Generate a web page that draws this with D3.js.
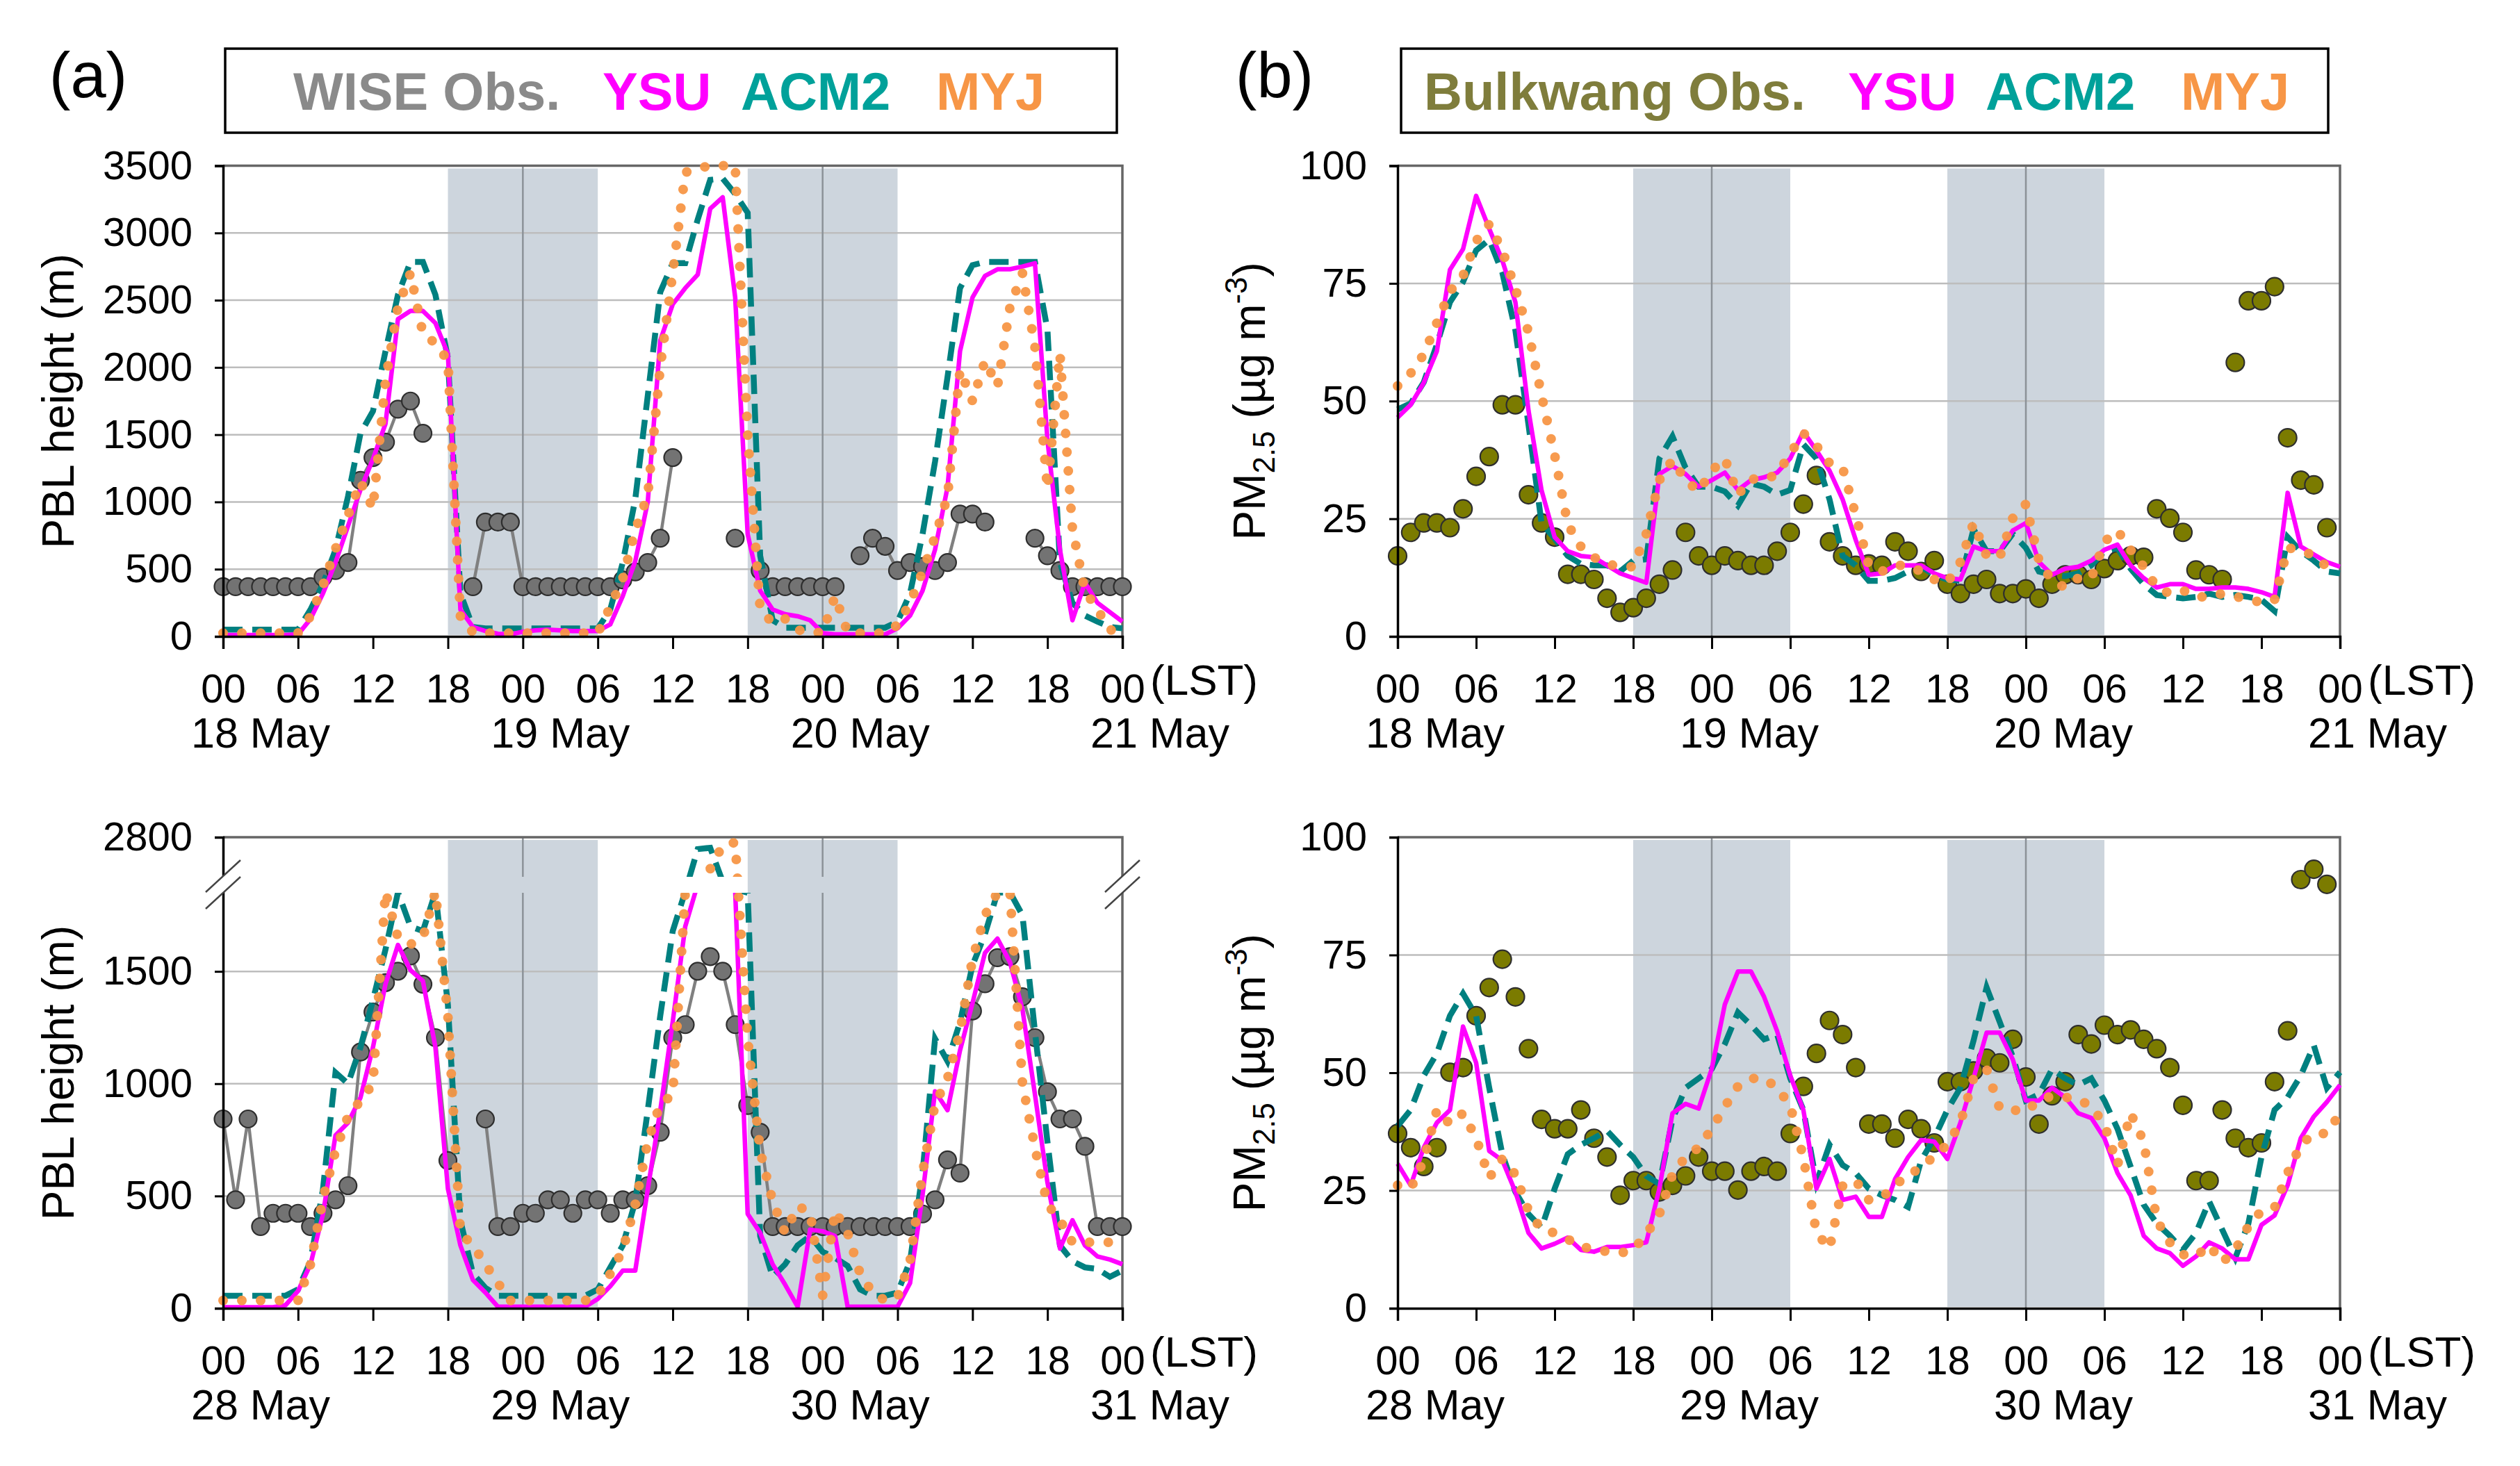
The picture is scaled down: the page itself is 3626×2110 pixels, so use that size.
<!DOCTYPE html>
<html>
<head>
<meta charset="utf-8">
<script src="https://cdn.jsdelivr.net/npm/d3@7"></script>
<style>
  body { margin: 0; background: #fff; }
  text { font-family: "Liberation Sans", Arial, sans-serif; }
</style>
</head>
<body>
<svg id="fig" width="3626" height="2110"></svg>
<script>
// hour index 0..72 (00 LST of first day .. 00 LST three days later)
const tickHours = d3.range(0, 73, 6);
const nightStarts = [18, 42];           // shaded 18-06 LST
const dayLinesAt = [24, 48];

const daysTop = ["18 May", "19 May", "20 May", "21 May"];
const daysBottom = ["28 May", "29 May", "30 May", "31 May"];

const pblTicksTop = [0, 500, 1000, 1500, 2000, 2500, 3000, 3500];
const pblTicksBottom = [0, 500, 1000, 1500, 2800];
const pmTicks = [0, 25, 50, 75, 100];

// ---- (a) PBL height, 18-21 May
const pblObs1 = [370,370,370,370,370,370,370,370,440,490,550,1160,1330,1445,1690,1750,1510,null,null,null,
  370,850,850,850,370,370,370,370,370,370,370,370,420,480,550,730,1330,null,null,null,
  null,730,null,490,370,370,370,370,370,370,null,600,730,670,490,550,520,490,550,910,
  910,850,null,null,null,730,600,490,370,370,370,370,370];
const pblYsu1 = [10,10,10,10,10,10,15,130,320,550,820,1090,1320,1580,2360,2420,2420,2330,2100,200,
  70,40,20,15,35,45,50,45,40,40,40,90,300,560,1000,2200,2470,2590,2690,3180,
  3265,2520,760,340,200,165,150,120,25,15,15,15,15,15,60,155,340,645,1110,2120,
  2520,2680,2730,2730,2750,2775,1460,645,120,400,250,180,110];
const pblAcm1 = [50,50,50,50,50,50,50,200,390,645,1040,1510,1675,2120,2540,2785,2785,2540,2070,320,
  70,60,60,60,60,60,60,60,60,60,60,200,550,1020,1790,2560,2775,2775,3100,3395,
  3405,3290,3150,600,120,65,65,65,65,65,65,65,65,65,110,320,760,1300,1930,2590,
  2760,2785,2785,2785,2785,2785,2280,550,250,155,110,70,60];
const pblMyj1 = [25,25,25,25,25,25,25,150,380,650,900,1150,950,1900,2450,2700,2250,2180,2050,150,
  30,25,25,25,25,25,25,25,25,25,25,220,430,790,1050,2000,2700,3450,3480,3500,
  3500,3500,1500,200,100,130,50,25,30,300,30,25,25,25,85,250,480,740,1040,1980,
  1750,2050,1860,2450,2700,2150,1100,2100,800,340,200,50,30];

// ---- (b) PM2.5, 18-21 May
const pmObs1 = [17.1,22.1,24.1,24.1,23.1,27.1,34.0,38.2,49.2,49.2,30.1,24.1,21.1,13.2,13.2,12.1,8.1,5.1,6.1,8.1,
  11.1,14.1,22.1,17.1,15.1,17.1,16.1,15.1,15.1,18.1,22.1,28.1,34.2,20.1,17.1,15.1,15.4,15.1,20.1,18.1,
  13.8,16.1,11.1,9.1,11.1,12.1,9.1,9.1,10.1,8.1,11.1,13.1,13.1,12.1,14.4,16.1,17.1,16.8,27.1,25.1,
  22.1,14.1,13.1,12.1,58.2,71.3,71.3,74.3,42.2,33.2,32.2,23.1,null];
const pmYsu1 = [46.5,49.2,53.9,60.6,77.9,82.3,93.6,86.6,79.9,71.0,48.0,31.0,21.1,18.1,17.1,16.8,15.1,13.4,12.4,11.4,
  34.5,36.2,34.5,31.8,33.2,34.8,31.1,33.2,33.8,34.8,37.8,43.5,39.5,35.2,29.1,20.5,13.1,13.4,15.1,15.1,
  15.1,13.4,12.4,12.1,19.1,18.1,18.1,22.5,24.1,15.8,13.1,14.4,14.8,16.1,18.4,19.5,15.1,12.4,10.4,11.1,
  11.1,10.1,10.1,10.4,10.4,10.1,9.4,8.4,30.5,19.1,17.4,15.8,14.8];
const pmAcm1 = [48.2,49.5,54.0,62.0,71.0,75.3,82.0,84.3,77.3,65.0,45.0,24.0,20.8,17.1,15.4,15.1,15.1,13.8,16.1,16.4,
  37.8,42.5,35.8,31.8,31.8,30.8,27.8,32.5,31.8,30.1,31.1,40.8,37.8,29.1,17.1,15.1,11.8,11.8,12.4,13.8,
  14.8,13.1,12.1,11.8,22.8,18.1,18.1,21.8,18.8,13.8,13.1,12.8,13.4,15.1,18.1,18.8,14.4,11.1,8.8,8.4,
  8.1,8.4,9.1,8.4,8.8,8.4,7.8,5.4,21.1,18.1,16.1,13.8,13.4];
const pmMyj1 = [53.2,55.9,59.9,66.6,73.3,76.6,84.0,87.6,82.0,73.9,64.6,51.2,38.5,23.8,19.1,16.8,15.4,14.8,14.8,21.8,
  33.2,37.5,33.2,30.8,35.2,37.8,30.1,33.5,33.2,34.5,38.8,43.2,40.5,36.8,35.8,25.8,15.1,13.8,15.1,15.1,
  13.8,12.1,11.4,15.8,24.1,17.1,16.8,25.1,28.1,16.1,11.8,10.4,12.4,12.4,20.1,22.5,18.4,14.8,10.4,9.1,
  9.8,8.4,8.4,9.1,8.4,8.1,7.1,7.8,18.8,18.4,17.1,14.8,14.4];

// ---- (a) PBL height, 28-31 May (broken axis above ~1850 m)
const pblObs2 = [843,483,843,364,423,423,423,364,423,483,546,1141,1319,1450,1501,1569,1443,1205,658,null,
  null,843,364,364,423,423,483,483,423,483,483,423,483,483,546,784,1205,1263,1501,1566,
  1501,1263,903,784,364,364,364,364,364,364,364,364,364,364,364,364,420,483,661,602,
  1324,1445,1561,1566,1387,1205,964,843,843,721,364,364,364];
const pblYsu2 = [5,5,5,5,5,14,77,196,420,770,826,938,1162,1443,1618,1506,1457,1162,532,280,
  126,70,7,7,7,7,7,7,7,7,42,98,168,168,530,880,1276,1700,2200,2300,
  2250,1900,420,336,196,105,7,350,343,322,7,7,7,7,7,112,504,966,882,1148,
  1359,1583,1646,1541,1331,952,560,266,392,280,231,217,196];
const pblAcm2 = [56,56,56,56,56,56,84,210,532,1050,1000,1162,1373,1597,1870,1700,1680,1870,1350,392,
  154,91,56,56,56,56,56,56,56,56,84,182,280,476,882,1302,1680,1900,2710,2720,
  2300,2000,1850,322,140,196,280,322,252,224,189,84,56,56,70,210,602,1200,1100,1274,
  1527,1667,1860,1870,1750,1232,742,280,210,182,175,140,168];
const pblMyj2 = [35,35,35,35,35,35,35,196,490,700,854,924,1000,1900,1650,1620,1650,1900,1300,336,
  280,196,112,35,35,35,35,35,35,35,56,154,259,462,742,910,950,1870,2300,2560,
  2740,2760,1200,700,476,336,455,427,56,434,336,154,70,35,49,210,602,910,1022,1232,
  1555,1751,1860,1860,1000,714,462,392,294,294,294,294,294];

// ---- (b) PM2.5, 28-31 May
const pmObs2 = [37.1,34.1,30.1,34.1,50.1,51.1,62.1,68.1,74.1,66.1,55.1,40.1,38.1,38.1,42.1,36.1,32.1,24.0,27.1,27.1,
  24.7,26.1,28.1,32.1,29.1,29.1,25.1,29.1,30.1,29.1,37.1,47.1,54.1,61.1,58.1,51.1,39.1,39.1,36.1,40.1,
  38.1,35.1,48.1,48.1,50.4,53.1,52.1,57.1,49.1,39.1,45.1,48.1,58.1,56.1,60.1,58.1,59.1,57.1,55.1,51.1,
  43.1,27.1,27.1,42.1,36.1,34.1,35.1,48.1,58.9,91.0,93.2,90.0,null];
const pmYsu2 = [30.7,26.1,34.1,39.4,42.1,59.8,52.1,33.4,31.4,24.7,16.0,12.7,13.7,15.0,12.4,12.0,13.0,13.0,13.4,14.0,
  25.4,41.4,43.4,42.4,50.8,64.5,71.5,71.5,66.1,58.8,49.4,42.1,25.4,31.7,23.0,23.7,19.4,19.4,27.4,32.1,
  35.7,35.4,31.7,39.4,48.8,58.5,58.5,52.8,44.1,44.1,46.8,44.8,41.4,40.4,36.1,28.7,24.0,15.4,12.7,11.7,
  9.0,11.0,14.0,12.7,10.4,10.4,17.7,19.7,26.1,36.1,40.7,43.8,47.4];
const pmAcm2 = [38.7,42.1,49.4,54.1,62.1,66.8,62.1,46.8,32.7,24.7,20.0,17.1,25.4,32.7,34.7,36.1,37.7,34.7,32.1,28.1,
  26.4,40.1,46.8,48.8,50.8,56.1,62.8,60.1,57.1,58.1,48.8,42.1,26.7,34.7,30.4,28.7,25.4,24.0,23.0,21.5,
  31.4,36.1,42.1,46.8,56.8,68.1,60.8,53.4,44.1,45.4,50.8,48.8,47.4,48.8,44.1,38.1,30.1,22.0,18.0,15.4,
  12.4,16.0,22.7,16.7,10.7,18.0,32.1,42.1,44.8,49.4,55.8,46.8,50.1];
const pmMyj2 = [26.1,25.4,31.4,42.1,39.1,41.4,36.1,27.7,31.7,28.4,20.7,16.7,16.0,14.7,13.0,12.7,12.0,11.7,12.4,15.7,
  20.0,28.4,32.1,34.1,38.1,42.8,47.1,48.8,48.8,46.8,43.0,32.0,16.0,12.7,26.0,27.1,23.0,23.5,26.0,28.5,
  29.7,32.4,34.7,39.4,48.8,50.8,42.4,42.1,41.8,44.1,45.1,44.8,44.4,42.8,39.1,30.4,41.4,35.4,18.7,14.0,
  11.4,11.0,13.4,9.7,12.4,17.4,20.7,21.4,28.7,34.7,37.1,37.1,41.4];

const legendA = [
  {label: "WISE Obs.", color: "#8a8a8a"},
  {label: "YSU", color: "#ff00ff"},
  {label: "ACM2", color: "#00a19a"},
  {label: "MYJ", color: "#f79646"}
];
const legendB = [
  {label: "Bulkwang Obs.", color: "#7f7d3c"},
  {label: "YSU", color: "#ff00ff"},
  {label: "ACM2", color: "#00a19a"},
  {label: "MYJ", color: "#f79646"}
];

const svg = d3.select("#fig");
const FONT = '"Liberation Sans", Arial, sans-serif';

function drawPanel(p) {
  const x = d3.scaleLinear().domain([0, 72]).range([p.x0, p.x1]);
  const y = p.y;
  const [yb, yt] = [y.range()[0], y.range()[y.range().length - 1]];
  const g = svg.append("g");

  // night shading
  g.selectAll("rect.night").data(nightStarts).join("rect")
    .attr("x", d => x(d)).attr("width", d => x(d + 12) - x(d))
    .attr("y", yt + 4).attr("height", yb - yt - 6)
    .attr("fill", "#cdd5dd");

  // horizontal grid
  g.selectAll("line.grid").data(p.grid).join("line")
    .attr("x1", p.x0).attr("x2", p.x1)
    .attr("y1", d => y(d)).attr("y2", d => y(d))
    .attr("stroke", "#bdbdbd").attr("stroke-width", 2.5);

  // day separators
  p.daySegs.forEach(([a, b]) => {
    g.selectAll(null).data(dayLinesAt).join("line")
      .attr("x1", d => x(d)).attr("x2", d => x(d))
      .attr("y1", a).attr("y2", b)
      .attr("stroke", "#8c9298").attr("stroke-width", 2.5);
  });

  // frame (top, right)
  g.append("path")
    .attr("d", `M${p.x0},${yt}H${p.x1}V${yb}`)
    .attr("fill", "none").attr("stroke", "#666").attr("stroke-width", 3.5);

  // series
  const sg = g.append("g");
  if (p.clip) sg.attr("clip-path", `url(#${p.clip})`);
  const line = d3.line().defined(d => d != null).x((d, i) => x(i)).y(d => y(d));

  sg.append("path").datum(p.obs).attr("d", line)
    .attr("fill", "none").attr("stroke", p.obsLine).attr("stroke-width", 4.5);
  sg.selectAll("circle").data(p.obs.map((v, i) => [i, v]).filter(d => d[1] != null)).join("circle")
    .attr("cx", d => x(d[0])).attr("cy", d => y(d[1])).attr("r", p.obsR)
    .attr("fill", p.obsFill).attr("stroke", "#2e2e2e").attr("stroke-width", 2.2);

  sg.append("path").datum(p.acm).attr("d", line)
    .attr("fill", "none").attr("stroke", "#008080").attr("stroke-width", 8.5)
    .attr("stroke-dasharray", "28 14");
  sg.append("path").datum(p.ysu).attr("d", line)
    .attr("fill", "none").attr("stroke", "#ff00ff").attr("stroke-width", 6.5)
    .attr("stroke-linejoin", "round");
  sg.append("path").datum(p.myj).attr("d", line)
    .attr("fill", "none").attr("stroke", "#f79646").attr("stroke-width", 14)
    .attr("stroke-linecap", "round").attr("stroke-dasharray", "0 27")
    .attr("opacity", 0.95);

  // axes
  const ay = g.append("g").attr("transform", `translate(${p.x0},0)`)
    .call(d3.axisLeft(y).tickValues(p.ticks).tickSize(12).tickPadding(32)
      .tickFormat(d3.format("d")));
  const ax = g.append("g").attr("transform", `translate(0,${yb})`)
    .call(d3.axisBottom(x).tickValues(tickHours).tickSize(18).tickPadding(36)
      .tickFormat(h => d3.format("02")(h % 24)));
  [ay, ax].forEach(a => {
    a.attr("font-size", 58).attr("font-family", FONT);
    a.select(".domain").attr("stroke", "#000").attr("stroke-width", 3.5);
    a.selectAll(".tick line").attr("stroke", "#000").attr("stroke-width", 3);
    a.selectAll(".tick text").attr("fill", "#000");
  });

  g.append("text").attr("x", p.x1 + 40).attr("y", yb + 84)
    .attr("font-size", 62).text("(LST)");

  g.selectAll("text.day").data(p.days).join("text")
    .attr("x", (d, i) => x(i * 24) - 46).attr("y", yb + 160)
    .attr("font-size", 61).text(d => d);

  // y title
  const yc = (yb + yt) / 2;
  const tt = g.append("text")
    .attr("transform", `translate(${p.titleX},${yc}) rotate(-90)`)
    .attr("text-anchor", "middle").attr("font-size", 64);
  if (p.pm) {
    tt.append("tspan").text("PM");
    tt.append("tspan").attr("font-size", 44).attr("dy", 14).text("2.5");
    tt.append("tspan").attr("dy", -14).text(" (\u00b5g m");
    tt.append("tspan").attr("font-size", 44).attr("dy", -26).text("-3");
    tt.append("tspan").attr("dy", 26).text(")");
  } else {
    tt.text("PBL height (m)");
  }
  return {x, y, g};
}

function drawLegend(items, box, starts, tag, tagX) {
  svg.append("rect").attr("x", box[0]).attr("y", 70)
    .attr("width", box[1] - box[0]).attr("height", 121)
    .attr("fill", "#fff").attr("stroke", "#000").attr("stroke-width", 3.5);
  svg.selectAll(null).data(items).join("text")
    .attr("x", (d, i) => starts[i]).attr("y", 158)
    .attr("font-size", 76).attr("font-weight", "bold")
    .attr("fill", d => d.color).text(d => d.label);
  svg.append("text").attr("x", tagX).attr("y", 140).attr("text-anchor", "middle")
    .attr("font-size", 92).text(tag);
}

const topY = [916, 238.5];
const botY = [1883, 1205];

drawPanel({
  x0: 321, x1: 1615,
  y: d3.scaleLinear().domain([0, 3500]).range(topY),
  ticks: pblTicksTop, grid: pblTicksTop.slice(1, -1),
  daySegs: [[238.5, 916]],
  obs: pblObs1, ysu: pblYsu1, acm: pblAcm1, myj: pblMyj1,
  obsLine: "#808080", obsFill: "#737373", obsR: 12.5,
  days: daysTop, titleX: 106, pm: false
});
drawPanel({
  x0: 2011, x1: 3367,
  y: d3.scaleLinear().domain([0, 100]).range(topY),
  ticks: pmTicks, grid: pmTicks.slice(1, -1),
  daySegs: [[238.5, 916]],
  obs: pmObs1, ysu: pmYsu1, acm: pmAcm1, myj: pmMyj1,
  obsLine: "none", obsFill: "#7b7b00", obsR: 13,
  days: daysTop, titleX: 1820, pm: true
});

// broken axis: lower 0-1850, upper 2500-2800
const yBreak = d3.scaleLinear().domain([0, 1850, 2500, 2800]).range([1883, 1285, 1262, 1205]);
const defs = svg.append("defs");
const cp = defs.append("clipPath").attr("id", "brk");
cp.append("rect").attr("x", 280).attr("y", 1180).attr("width", 1380).attr("height", 1262 - 1180);
cp.append("rect").attr("x", 280).attr("y", 1285).attr("width", 1380).attr("height", 640);

drawPanel({
  x0: 321, x1: 1615,
  y: yBreak,
  ticks: pblTicksBottom, grid: [500, 1000, 1500],
  daySegs: [[1205, 1262], [1285, 1883]],
  obs: pblObs2, ysu: pblYsu2, acm: pblAcm2, myj: pblMyj2,
  obsLine: "#808080", obsFill: "#737373", obsR: 12.5, clip: "brk",
  days: daysBottom, titleX: 106, pm: false
});
drawPanel({
  x0: 2011, x1: 3367,
  y: d3.scaleLinear().domain([0, 100]).range(botY),
  ticks: pmTicks, grid: pmTicks.slice(1, -1),
  daySegs: [[1205, 1883]],
  obs: pmObs2, ysu: pmYsu2, acm: pmAcm2, myj: pmMyj2,
  obsLine: "none", obsFill: "#7b7b00", obsR: 13,
  days: daysBottom, titleX: 1820, pm: true
});

// break marks on the bottom-left axis
[321, 1615].forEach(cx => {
  const cy = 1273, w = 25, h = 23, s = 12;
  svg.append("path")
    .attr("d", `M${cx - w},${cy - s + h}L${cx + w},${cy - s - h}L${cx + w},${cy + s - h}L${cx - w},${cy + s + h}Z`)
    .attr("fill", "#fff");
  [-s, s].forEach(o => svg.append("line")
    .attr("x1", cx - w).attr("y1", cy + o + h).attr("x2", cx + w).attr("y2", cy + o - h)
    .attr("stroke", "#444").attr("stroke-width", 2.5));
});

drawLegend(legendA, [324, 1607], [422, 867, 1066, 1347], "(a)", 127);
drawLegend(legendB, [2016, 3350], [2049, 2659, 2857, 3138], "(b)", 1834);
</script>
</body>
</html>
